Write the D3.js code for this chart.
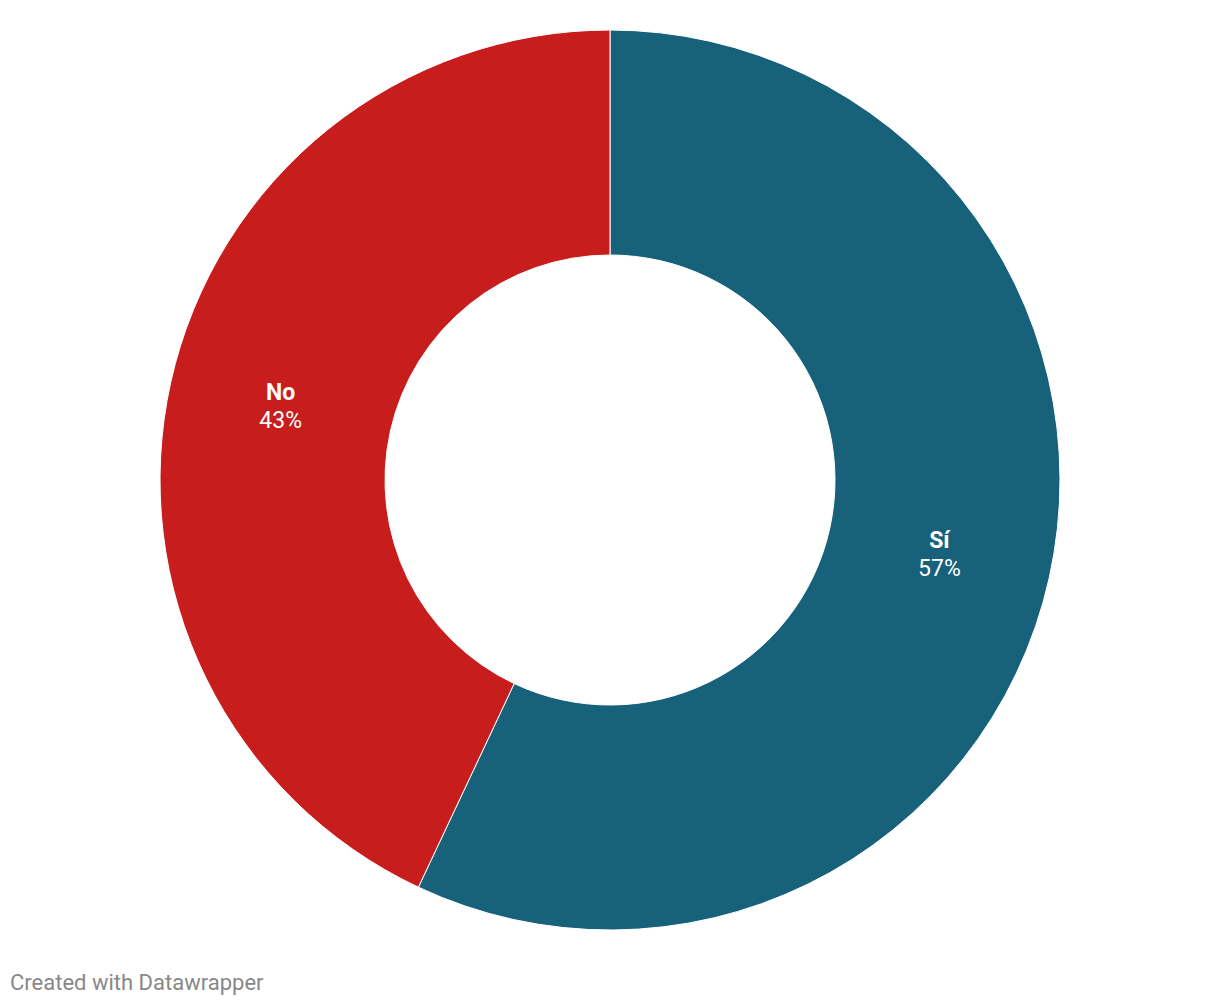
<!DOCTYPE html>
<html>
<head>
<meta charset="utf-8">
<script src="https://cdn.jsdelivr.net/npm/d3@7"></script>
<style>
  body { margin: 0; background: #fff; font-family: Roboto, sans-serif; }
</style>
</head>
<body>
<svg id="donut"></svg>
<script>
// data
var categories = ["Sí", "No"];
var values = [57, 43];
var colours = ["#17617b", "#c71e1d"];

var width = 1220, height = 1006;
var cx = 610, cy = 480;
var outer = 450, inner = 225;

var svg = d3.select("#donut")
    .attr("width", width)
    .attr("height", height);

var g = svg.append("g")
    .attr("transform", `translate(${cx}, ${cy})`);

var pie = d3.pie().sort(null).value(function(d) { return d.value; });
var arc = d3.arc().innerRadius(inner).outerRadius(outer);

var data = categories.map(function(c, i) { return {name: c, value: values[i], colour: colours[i]}; });
var arcs = pie(data);

g.selectAll("path")
    .data(arcs)
    .enter().append("path")
    .attr("d", arc)
    .style("fill", function(d) { return d.data.colour; })
    .style("stroke", "#fff")
    .style("stroke-width", 1);

// labels at arc centroid
var labels = g.selectAll("g.label")
    .data(arcs)
    .enter().append("g")
    .attr("class", "label")
    .attr("transform", function(d) { return `translate(${arc.centroid(d)})`; });

labels.append("text")
    .attr("text-anchor", "middle")
    .attr("y", -6)
    .style("fill", "#fff")
    .style("font-size", "23px")
    .style("font-weight", "bold")
    .text(function(d) { return d.data.name; });

labels.append("text")
    .attr("text-anchor", "middle")
    .attr("y", 22)
    .style("fill", "#fff")
    .style("font-size", "23px")
    .text(function(d) { return d.data.value + "%"; });

svg.append("text")
    .attr("x", 10)
    .attr("y", 990)
    .style("fill", "#888")
    .style("font-size", "22px")
    .text("Created with Datawrapper");
</script>
</body>
</html>
